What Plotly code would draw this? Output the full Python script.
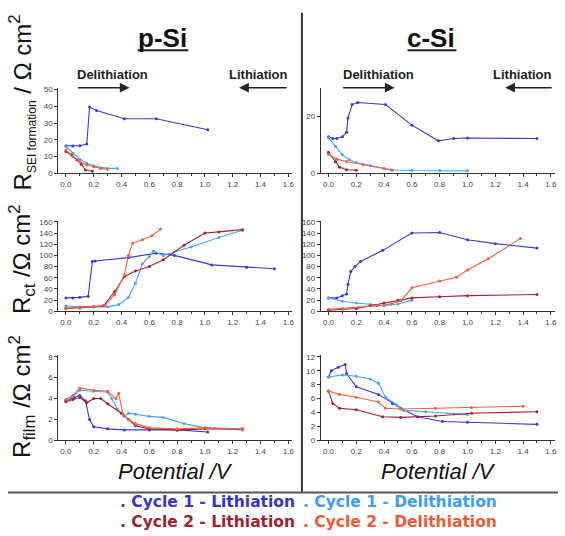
import plotly.graph_objects as go

# ---------------- data ----------------
# p-Si, R_SEI formation
psi_sei_c1l_v = [0.0, 0.05, 0.1, 0.15, 0.17, 0.22, 0.42, 0.65, 1.02]
psi_sei_c1l_r = [16.5, 16.3, 16.5, 17.5, 39.5, 37.5, 32.5, 32.5, 26.0]
psi_sei_c1d_v = [0.0, 0.05, 0.1, 0.15, 0.2, 0.3, 0.37]
psi_sei_c1d_r = [16.0, 12.0, 8.5, 6.0, 4.5, 3.0, 3.0]
psi_sei_c2l_v = [0.0, 0.04, 0.08, 0.11, 0.14, 0.19]
psi_sei_c2l_r = [13.0, 11.0, 8.0, 5.5, 2.0, 1.3]
psi_sei_c2d_v = [0.0, 0.05, 0.1, 0.15, 0.2, 0.25, 0.3]
psi_sei_c2d_r = [14.0, 10.0, 7.0, 5.0, 4.0, 3.0, 2.5]

# c-Si, R_SEI formation
csi_sei_c1l_v = [0.0, 0.03, 0.06, 0.1, 0.13, 0.14, 0.17, 0.21, 0.41, 0.6, 0.79, 0.9, 1.0, 1.5]
csi_sei_c1l_r = [12.8, 12.2, 12.2, 12.8, 14.4, 19.4, 24.1, 24.8, 24.1, 16.9, 11.4, 12.2, 12.4, 12.2]
csi_sei_c1d_v = [0.0, 0.05, 0.1, 0.15, 0.2, 0.3, 0.45, 0.6, 0.8, 1.0]
csi_sei_c1d_r = [12.5, 9.5, 6.5, 4.8, 3.8, 2.8, 1.2, 1.0, 1.0, 0.9]
csi_sei_c2l_v = [0.0, 0.05, 0.08, 0.13, 0.2]
csi_sei_c2l_r = [7.4, 4.1, 2.2, 1.3, 1.1]
csi_sei_c2d_v = [0.0, 0.06, 0.13, 0.25, 0.4, 0.46]
csi_sei_c2d_r = [6.7, 5.0, 4.2, 3.0, 1.7, 1.2]

# p-Si, R_ct
psi_ct_c1l_v = [0.0, 0.05, 0.1, 0.16, 0.19, 0.21, 0.45, 0.65, 0.78, 1.05, 1.3, 1.5]
psi_ct_c1l_r = [24, 24, 25, 27, 89, 90, 96, 104, 100, 83, 79, 76]
psi_ct_c1d_v = [0.0, 0.1, 0.2, 0.3, 0.38, 0.45, 0.5, 0.55, 0.6, 0.63, 0.7, 0.9, 1.1, 1.27]
psi_ct_c1d_r = [10, 8, 8, 8, 12, 25, 50, 85, 98, 108, 100, 115, 132, 145]
psi_ct_c2l_v = [0.0, 0.1, 0.2, 0.27, 0.35, 0.42, 0.5, 0.6, 0.7, 0.85, 1.0, 1.1, 1.27]
psi_ct_c2l_r = [5, 6, 8, 10, 35, 62, 72, 80, 92, 118, 140, 142, 146]
psi_ct_c2d_v = [0.0, 0.1, 0.2, 0.28, 0.35, 0.42, 0.45, 0.48, 0.55, 0.62, 0.68]
psi_ct_c2d_r = [6, 7, 8, 10, 30, 65, 100, 122, 128, 135, 147]

# c-Si, R_ct
csi_ct_c1l_v = [0.0, 0.06, 0.1, 0.13, 0.14, 0.16, 0.19, 0.23, 0.39, 0.6, 0.8, 1.0, 1.2, 1.5]
csi_ct_c1l_r = [24, 24, 28, 31, 48, 71, 80, 89, 109, 140, 141, 128, 121, 113]
csi_ct_c1d_v = [0.0, 0.1, 0.2, 0.3, 0.4, 0.5, 0.6]
csi_ct_c1d_r = [24, 18, 15, 12, 10, 13, 20]
csi_ct_c2l_v = [0.0, 0.1, 0.2, 0.3, 0.4, 0.5, 0.6, 0.8, 1.0, 1.5]
csi_ct_c2l_r = [2, 4, 5, 10, 15, 20, 24, 26, 28, 30]
csi_ct_c2d_v = [0.0, 0.1, 0.22, 0.35, 0.45, 0.52, 0.6, 0.8, 0.92, 1.0, 1.15, 1.38]
csi_ct_c2d_r = [3.5, 5, 7.5, 10, 13, 19, 42, 54, 61, 74, 94, 130]

# p-Si, R_film
psi_fm_c1l_v = [0.0, 0.06, 0.1, 0.14, 0.17, 0.2, 0.3, 0.42, 0.6, 0.8, 1.02]
psi_fm_c1l_r = [3.8, 4.1, 4.3, 3.8, 2.0, 1.3, 1.1, 1.0, 1.0, 1.0, 0.8]
psi_fm_c1d_v = [0.0, 0.05, 0.1, 0.2, 0.3, 0.33, 0.37, 0.42, 0.45, 0.5, 0.6, 0.7, 0.85, 1.0, 1.27]
psi_fm_c1d_r = [3.8, 4.2, 4.8, 4.7, 4.6, 4.0, 3.0, 2.3, 2.6, 2.5, 2.3, 2.2, 1.6, 1.2, 1.0]
psi_fm_c2l_v = [0.0, 0.05, 0.1, 0.15, 0.2, 0.25, 0.3, 0.4, 0.45, 0.5, 0.6, 0.8, 1.0, 1.27]
psi_fm_c2l_r = [3.7, 3.9, 4.1, 3.6, 4.0, 4.0, 3.5, 2.6, 2.0, 1.4, 1.1, 1.0, 1.1, 1.1]
psi_fm_c2d_v = [0.0, 0.05, 0.1, 0.2, 0.3, 0.36, 0.38, 0.41, 0.45, 0.5, 0.6, 0.8, 1.0, 1.27]
psi_fm_c2d_r = [3.9, 4.3, 5.0, 4.8, 4.7, 4.0, 4.5, 2.5, 2.0, 1.6, 1.2, 1.1, 1.2, 1.1]

# c-Si, R_film
csi_fm_c1l_v = [0.0, 0.02, 0.07, 0.12, 0.13, 0.2, 0.36, 0.46, 0.52, 0.64, 0.82, 1.0, 1.5]
csi_fm_c1l_r = [9.1, 10.0, 10.5, 10.9, 9.6, 7.7, 6.6, 5.3, 4.6, 3.4, 2.7, 2.6, 2.3]
csi_fm_c1d_v = [0.0, 0.1, 0.2, 0.3, 0.36, 0.41, 0.49, 0.54, 0.7, 0.9, 1.0]
csi_fm_c1d_r = [9.1, 9.4, 9.2, 8.8, 8.2, 6.2, 5.1, 4.3, 4.1, 3.8, 3.7]
csi_fm_c2l_v = [0.0, 0.03, 0.08, 0.2, 0.39, 0.52, 0.77, 1.03, 1.5]
csi_fm_c2l_r = [7.1, 5.3, 4.6, 4.4, 3.4, 3.3, 3.5, 3.9, 4.1]
csi_fm_c2d_v = [0.0, 0.08, 0.2, 0.36, 0.41, 0.52, 0.77, 1.03, 1.4]
csi_fm_c2d_r = [7.1, 6.6, 6.2, 5.5, 4.6, 4.5, 4.6, 4.7, 4.9]

series_names = ["Cycle 1 - Lithiation", "Cycle 1 - Delithiation",
                "Cycle 2 - Lithiation", "Cycle 2 - Delithiation"]
panel_titles = ["p-Si", "c-Si"]
x_tick_vals = [0.0, 0.2, 0.4, 0.6, 0.8, 1.0, 1.2, 1.4, 1.6]

# ---------------- styling ----------------
W, H = 565, 536
FONT = "Arial, Liberation Sans, sans-serif"
LEG_FONT = "DejaVu Sans, Arial, sans-serif"
line_colors = ["#3a3ad2", "#46a6ff", "#a8202e", "#f2603c"]
legend_colors = ["#3535cc", "#3d9df5", "#a3202c", "#ef5a35"]


def px(xp):
    return xp / W


def py(yp):
    return 1 - yp / H


panels = [
    (1, (58.5, 293.5), (86, 173), [0, 51], [0, 10, 20, 30, 40, 50],
     [(psi_sei_c1l_v, psi_sei_c1l_r), (psi_sei_c1d_v, psi_sei_c1d_r),
      (psi_sei_c2l_v, psi_sei_c2l_r), (psi_sei_c2d_v, psi_sei_c2d_r)]),
    (2, (322, 557), (86, 173), [0, 30], [0, 20],
     [(csi_sei_c1l_v, csi_sei_c1l_r), (csi_sei_c1d_v, csi_sei_c1d_r),
      (csi_sei_c2l_v, csi_sei_c2l_r), (csi_sei_c2d_v, csi_sei_c2d_r)]),
    (3, (58.5, 293.5), (221, 313), [0, 162], list(range(0, 161, 20)),
     [(psi_ct_c1l_v, psi_ct_c1l_r), (psi_ct_c1d_v, psi_ct_c1d_r),
      (psi_ct_c2l_v, psi_ct_c2l_r), (psi_ct_c2d_v, psi_ct_c2d_r)]),
    (4, (322, 557), (221, 313), [0, 162], list(range(0, 161, 20)),
     [(csi_ct_c1l_v, csi_ct_c1l_r), (csi_ct_c1d_v, csi_ct_c1d_r),
      (csi_ct_c2l_v, csi_ct_c2l_r), (csi_ct_c2d_v, csi_ct_c2d_r)]),
    (5, (58.5, 293.5), (357, 444), [0, 8.2], [0, 2, 4, 6, 8],
     [(psi_fm_c1l_v, psi_fm_c1l_r), (psi_fm_c1d_v, psi_fm_c1d_r),
      (psi_fm_c2l_v, psi_fm_c2l_r), (psi_fm_c2d_v, psi_fm_c2d_r)]),
    (6, (322, 557), (357, 444), [0, 12.3], [0, 2, 4, 6, 8, 10, 12],
     [(csi_fm_c1l_v, csi_fm_c1l_r), (csi_fm_c1d_v, csi_fm_c1d_r),
      (csi_fm_c2l_v, csi_fm_c2l_r), (csi_fm_c2d_v, csi_fm_c2d_r)]),
]

fig = go.Figure()
layout = {}
for idx, xd, yd, yr, yt, data in panels:
    sfx = "" if idx == 1 else str(idx)
    for k, (vx, vy) in enumerate(data):
        fig.add_trace(go.Scatter(
            x=vx, y=vy, mode="lines+markers", name=series_names[k],
            line=dict(color=line_colors[k], width=1.1),
            marker=dict(color=line_colors[k], size=3),
            xaxis="x" + sfx, yaxis="y" + sfx, showlegend=False))
    axcommon = dict(showline=True, linecolor="#333", linewidth=1, ticks="outside",
                    ticklen=3, tickwidth=1, tickcolor="#333", showgrid=False,
                    zeroline=False, tickfont=dict(family=FONT, size=8, color="#444"))
    layout["xaxis" + sfx] = dict(axcommon, domain=[px(xd[0]), px(xd[1])],
                                 range=[-0.055, 1.63], tickvals=x_tick_vals,
                                 ticktext=[f"{v:.1f}" for v in x_tick_vals],
                                 minor=dict(ticks="outside", ticklen=2, dtick=0.1,
                                            tickcolor="#333"),
                                 anchor="y" + sfx)
    layout["yaxis" + sfx] = dict(axcommon, domain=[py(yd[1]), py(yd[0])],
                                 range=yr, tickvals=yt, anchor="x" + sfx)

annotations = []
shapes = []

# Panel titles with underline
for cx, t in [(163, panel_titles[0]), (433, panel_titles[1])]:
    annotations.append(dict(x=px(cx), y=py(36), xref="paper", yref="paper",
                            text=f"<b>{t}</b>", showarrow=False,
                            font=dict(family=FONT, size=26, color="#111"),
                            xanchor="center", yanchor="middle"))
shapes.append(dict(type="line", xref="paper", yref="paper", x0=px(138), x1=px(189),
                   y0=py(48), y1=py(48), line=dict(color="#222", width=2)))
shapes.append(dict(type="line", xref="paper", yref="paper", x0=px(409), x1=px(458),
                   y0=py(48), y1=py(48), line=dict(color="#222", width=2)))

# Delithiation / Lithiation labels + arrows
for cx, txt, tail, head in [(113, "Delithiation", 77, 130), (259, "Lithiation", 289, 240),
                            (380, "Delithiation", 343, 396), (524, "Lithiation", 555, 507)]:
    annotations.append(dict(x=px(cx), y=py(73), xref="paper", yref="paper",
                            text=f"<b>{txt}</b>", showarrow=False,
                            font=dict(family=FONT, size=13, color="#222"),
                            xanchor="center", yanchor="middle"))
    annotations.append(dict(x=px(head), y=py(86), ax=tail - head, ay=0,
                            xref="paper", yref="paper", axref="pixel", ayref="pixel",
                            text="", showarrow=True, arrowhead=2, arrowsize=1.3,
                            arrowwidth=1.5, arrowcolor="#222"))

# Y axis titles (rotated)
ytitles = [
    (101, "R<sub><span style='font-size:12px'>SEI formation</span></sub> / Ω cm<sup>2</sup>"),
    (260, "R<sub>ct</sub> /Ω cm<sup>2</sup>"),
    (399, "R<sub>film</sub> /Ω cm<sup>2</sup>"),
]
for cy, txt in ytitles:
    annotations.append(dict(x=px(22), y=py(cy), xref="paper", yref="paper", text=txt,
                            showarrow=False, textangle=-90,
                            font=dict(family=FONT, size=24, color="#111"),
                            xanchor="center", yanchor="middle"))

# Potential /V
for cx in (176, 440):
    annotations.append(dict(x=px(cx), y=py(476), xref="paper", yref="paper",
                            text="<i>Potential /V</i>", showarrow=False,
                            font=dict(family=FONT, size=22, color="#111"),
                            xanchor="center", yanchor="middle"))

# Dividers
shapes.append(dict(type="line", xref="paper", yref="paper", x0=px(303), x1=px(303),
                   y0=py(10), y1=py(497), line=dict(color="#333", width=2)))
shapes.append(dict(type="line", xref="paper", yref="paper", x0=px(8), x1=px(560),
                   y0=py(497), y1=py(497), line=dict(color="#555", width=2)))

# Legend text
leg_pos = [(298, 507, "right"), (302, 507, "left"), (298, 526.5, "right"), (302, 526.5, "left")]
for k, (lx, ly, anc) in enumerate(leg_pos):
    annotations.append(dict(x=px(lx), y=py(ly), xref="paper", yref="paper",
                            text=f"<b>. {series_names[k]}</b>", showarrow=False,
                            font=dict(family=LEG_FONT, size=15.5, color=legend_colors[k]),
                            xanchor=anc, yanchor="middle"))

fig.update_layout(width=W, height=H, margin=dict(l=0, r=0, t=0, b=0),
                  paper_bgcolor="white", plot_bgcolor="white",
                  annotations=annotations, shapes=shapes, **layout)

# remove the browser's default 8px body margin so the figure fills the window
fig.write_html("out.html", config={"displayModeBar": False},
               post_script="document.body.style.margin='0px';")
